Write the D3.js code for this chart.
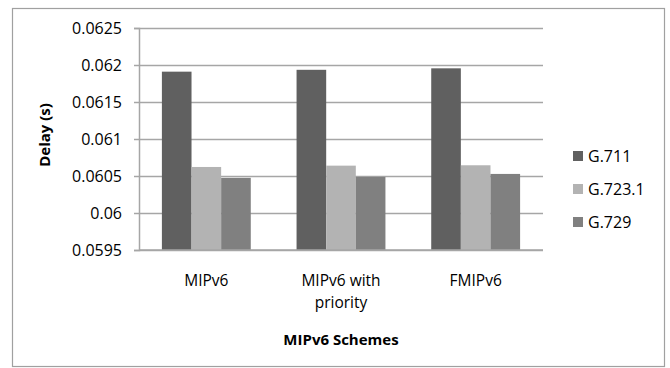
<!DOCTYPE html>
<html>
<head>
<meta charset="utf-8">
<script src="https://cdn.jsdelivr.net/npm/d3@7"></script>
<style>
  body { margin: 0; background: #fff; }
  text { font-family: "Open Sans", "Noto Sans", sans-serif; fill: #000; }
</style>
</head>
<body>
<div id="chart"></div>
<script>
const categories = [["MIPv6"], ["MIPv6 with", "priority"], ["FMIPv6"]]
const seriesNames = ["G.711", "G.723.1", "G.729"]
const g711 = [0.06191, 0.061935, 0.061955]
const g7231 = [0.060622, 0.06064, 0.060645]
const g729 = [0.060475, 0.060488, 0.060528]
const yTicks = [0.0595, 0.06, 0.0605, 0.061, 0.0615, 0.062, 0.0625]
const colors = ["#606060", "#b3b3b3", "#808080"]

const W = 670, H = 368
var margin = { top : 28, left : 139, bottom : 118, right : 127 }
let width = W - margin.left - margin.right
let height = H - margin.top - margin.bottom

const svg = d3.select("div#chart").append("svg").attr("width", W).attr("height", H)

// frame around the whole chart
svg.append("rect").attr("x", 12.5).attr("y", 8.5).attr("width", 652).attr("height", 358)
    .attr("fill", "none").attr("stroke", "#a0a0a0").attr("stroke-width", 1.2)

const plot = svg.append("g").attr("transform", `translate(${margin.left}, ${margin.top})`)

const series = [g711, g7231, g729]
const keys = categories.map((c, i) => i)

const x = d3.scaleBand().domain(keys).range([0, width]).paddingInner(0.34).paddingOuter(0.17)
const xs = d3.scaleBand().domain(seriesNames).range([0, x.bandwidth()])
const y = d3.scaleLinear().domain([0.0595, 0.0625]).range([height, 0])

// gridlines
const grid = plot.append("g").call(d3.axisLeft(y).tickValues(yTicks).tickSize(-width).tickFormat(""))
grid.select(".domain").remove()
grid.selectAll("line").attr("stroke", "#a6a6a6").attr("stroke-width", 1.5)

// bars
seriesNames.forEach((name, s) => {
    plot.append("g").selectAll("rect").data(series[s]).join("rect")
        .attr("x", (d, i) => x(i) + xs(name))
        .attr("width", xs.bandwidth())
        .attr("y", d => y(d))
        .attr("height", d => height - y(d))
        .attr("fill", colors[s])
})

// y axis with labels
const yAxis = plot.append("g").call(d3.axisLeft(y).tickValues(yTicks).tickSize(5).tickPadding(12).tickFormat(d => +d.toFixed(4)))
yAxis.selectAll("line").attr("stroke", "#a6a6a6").attr("stroke-width", 1.5)
yAxis.select(".domain").attr("stroke", "#a6a6a6").attr("stroke-width", 1.5)
yAxis.selectAll("text").style("font-size", "16px").attr("fill", "#000")

// x baseline
plot.append("line").attr("x1", 0).attr("x2", width).attr("y1", height).attr("y2", height)
    .attr("stroke", "#a6a6a6").attr("stroke-width", 1.5)

// category labels
categories.forEach((lines, i) => {
    lines.forEach((t, j) => {
        plot.append("text")
            .attr("x", x(i) + x.bandwidth() / 2)
            .attr("y", height + 36 + j * 22)
            .attr("text-anchor", "middle")
            .style("font-size", "15.5px")
            .text(t)
    })
})

// axis titles
svg.append("text").attr("x", margin.left + width / 2).attr("y", 345)
    .attr("text-anchor", "middle").style("font-size", "15px").style("font-weight", "bold")
    .text("MIPv6 Schemes")
svg.append("text").attr("transform", "translate(50, 135) rotate(-90)")
    .attr("text-anchor", "middle").style("font-size", "15px").style("font-weight", "bold")
    .text("Delay (s)")

// legend
const legend = svg.append("g").attr("transform", "translate(573, 156)")
seriesNames.forEach((name, s) => {
    const row = legend.append("g").attr("transform", `translate(0, ${s * 33})`)
    row.append("rect").attr("x", 0).attr("y", -5).attr("width", 10).attr("height", 10).attr("fill", colors[s])
    row.append("text").attr("x", 15).attr("y", 0).attr("dy", "0.35em").style("font-size", "16px").text(name)
})
</script>
</body>
</html>
